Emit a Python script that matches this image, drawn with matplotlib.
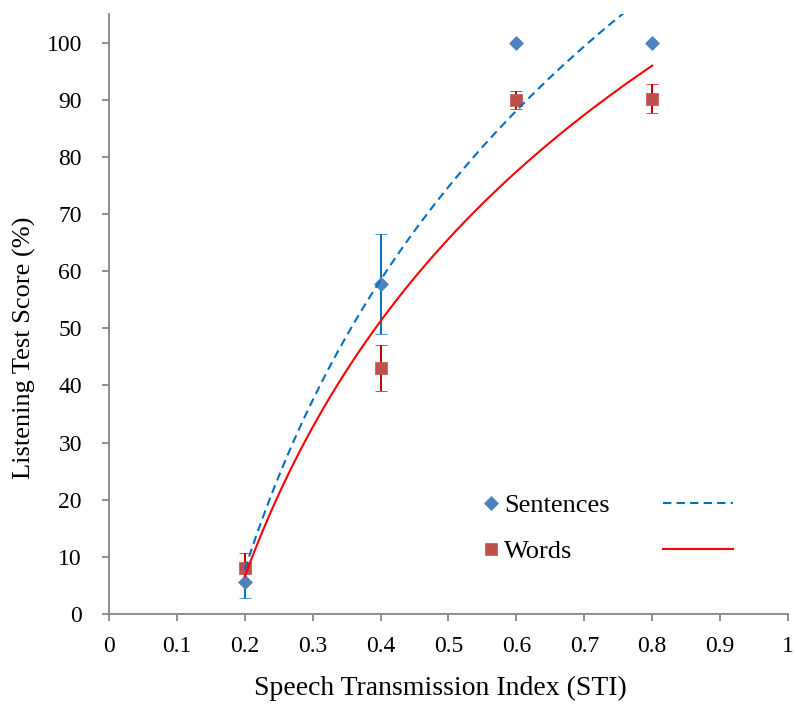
import numpy as np
import matplotlib
matplotlib.use('Agg')
import matplotlib.pyplot as plt
from matplotlib.lines import Line2D
from matplotlib.ticker import FuncFormatter, MultipleLocator

plt.rcParams['font.family'] = ['Liberation Serif', 'DejaVu Serif']

sti = [0.2, 0.4, 0.6, 0.8]
sentences = [5.65, 57.8, 100.0, 100.0]
sentences_err = [2.8, 8.75, 0.0, 0.0]
words = [8.1, 43.0, 89.9, 90.2]
words_err = [2.5, 4.0, 1.6, 2.6]

BLUE_MK = '#4F81BD'
RED_MK = '#C0504D'
BLUE_LN = '#0070C0'
RED_ERR = '#C00000'
RED_LN = '#FF0000'
AXIS_GREY = '#868686'


def log_trend(x, y):
    # logarithmic trendline y = a*ln(x) + b
    a, b = np.polyfit(np.log(x), y, 1)
    xs = np.linspace(min(x), max(x), 200)
    return xs, a * np.log(xs) + b


fig = plt.figure(figsize=(7.95, 7.07), dpi=100)
ax = fig.add_axes([0.1371, 0.1315, 0.8541, 0.8487])

ax.errorbar(sti, sentences, yerr=sentences_err, fmt='D', ms=6.8, mew=0.5,
            color=BLUE_MK, ecolor=BLUE_LN, elinewidth=1.4, capsize=4.2,
            capthick=1.4, zorder=3)
ax.errorbar(sti, words, yerr=words_err, fmt='s', ms=9, mew=0.5,
            color=RED_MK, ecolor=RED_ERR, elinewidth=1.4, capsize=4.2,
            capthick=1.4, zorder=3)

xs, ys = log_trend(sti, sentences)
ax.plot(xs, ys, color=BLUE_LN, lw=1.5, dashes=[4, 2.5], zorder=4)
xs, ys = log_trend(sti, words)
ax.plot(xs, ys, color=RED_LN, lw=1.5, zorder=4)

ax.set_xlim(0, 1)
ax.set_ylim(0, 105)
ax.xaxis.set_major_locator(MultipleLocator(0.1))
ax.yaxis.set_major_locator(MultipleLocator(10))
ax.xaxis.set_major_formatter(FuncFormatter(lambda v, p: '{:g}'.format(round(v, 1))))

for side in ['top', 'right']:
    ax.spines[side].set_visible(False)
for side in ['left', 'bottom']:
    ax.spines[side].set_color(AXIS_GREY)
    ax.spines[side].set_linewidth(1.3)
ax.tick_params(axis='both', colors=AXIS_GREY, labelcolor='black', labelsize=17,
               length=5, width=1.3, direction='out')
ax.tick_params(axis='x', pad=11)
ax.tick_params(axis='y', pad=14.5)

ax.set_xlabel('Speech Transmission Index (STI)', fontsize=20)
ax.set_ylabel('Listening Test Score (%)', fontsize=19)
ax.xaxis.set_label_coords(0.4875, -0.103)
ax.yaxis.set_label_coords(-0.107, 0.444)

# Excel-style legend: markers with names, trendlines in a separate column
mk_handles = [
    Line2D([], [], marker='D', ls='none', ms=6.8, mew=0.5, color=BLUE_MK),
    Line2D([], [], marker='s', ls='none', ms=9, mew=0.5, color=RED_MK),
]
ln_handles = [
    Line2D([], [], color=BLUE_LN, lw=1.5, dashes=[4, 2.5]),
    Line2D([], [], color=RED_LN, lw=1.5),
]
leg1 = ax.legend(mk_handles, ['Sentences', 'Words'], loc='center left',
                 bbox_to_anchor=(0.551, 0.143), frameon=False, fontsize=19,
                 handlelength=0.6, handletextpad=0.2, labelspacing=0.85,
                 borderpad=0, borderaxespad=0)
ax.add_artist(leg1)
ax.legend(ln_handles, ['', ''], loc='center left',
          bbox_to_anchor=(0.816, 0.143), frameon=False, fontsize=19,
          handlelength=2.65, handletextpad=0, labelspacing=0.85,
          borderpad=0, borderaxespad=0)

fig.savefig('out.png', dpi=100)
